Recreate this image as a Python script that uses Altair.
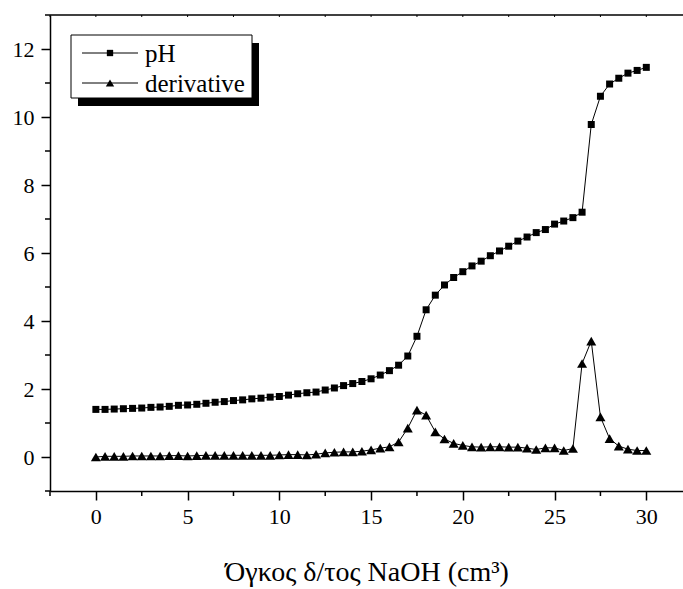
import altair as alt
import pandas as pd

# ---------------- data ----------------
volume = [0.0, 0.5, 1.0, 1.5, 2.0, 2.5, 3.0, 3.5, 4.0, 4.5, 5.0, 5.5, 6.0, 6.5, 7.0, 7.5,
          8.0, 8.5, 9.0, 9.5, 10.0, 10.5, 11.0, 11.5, 12.0, 12.5, 13.0, 13.5, 14.0, 14.5,
          15.0, 15.5, 16.0, 16.5, 17.0, 17.5, 18.0, 18.5, 19.0, 19.5, 20.0, 20.5, 21.0,
          21.5, 22.0, 22.5, 23.0, 23.5, 24.0, 24.5, 25.0, 25.5, 26.0, 26.5, 27.0, 27.5,
          28.0, 28.5, 29.0, 29.5, 30.0]
ph = [1.40, 1.40, 1.41, 1.42, 1.43, 1.44, 1.46, 1.47, 1.49, 1.52, 1.53, 1.55, 1.58, 1.61,
      1.63, 1.66, 1.68, 1.71, 1.73, 1.76, 1.78, 1.82, 1.86, 1.89, 1.91, 1.97, 2.03, 2.10,
      2.16, 2.22, 2.30, 2.41, 2.54, 2.70, 2.97, 3.55, 4.33, 4.76, 5.06, 5.28, 5.45, 5.62,
      5.76, 5.92, 6.06, 6.20, 6.35, 6.47, 6.60, 6.69, 6.85, 6.94, 7.04, 7.20, 9.78, 10.61,
      10.97, 11.14, 11.29, 11.37, 11.46]
derivative = [0.00, 0.02, 0.02, 0.02, 0.03, 0.03, 0.03, 0.03, 0.04, 0.04, 0.03, 0.04, 0.05,
              0.05, 0.05, 0.05, 0.05, 0.05, 0.05, 0.05, 0.06, 0.07, 0.07, 0.06, 0.08, 0.12,
              0.14, 0.15, 0.15, 0.17, 0.21, 0.26, 0.30, 0.44, 0.85, 1.38, 1.23, 0.74, 0.53,
              0.40, 0.34, 0.30, 0.29, 0.30, 0.30, 0.29, 0.29, 0.26, 0.22, 0.27, 0.27, 0.19,
              0.25, 2.75, 3.41, 1.18, 0.54, 0.32, 0.23, 0.19, 0.19]
series_names = ["pH", "derivative"]
series_shapes = ["square", "triangle-up"]
x_major = [0, 5, 10, 15, 20, 25, 30]
x_minor = [-2.5, 2.5, 7.5, 12.5, 17.5, 22.5, 27.5]
y_major = [0, 2, 4, 6, 8, 10, 12]
y_minor = [-1, 1, 3, 5, 7, 9, 11, 13]
x_title = "Όγκος δ/τος NaOH (cm³)"

FONT = "'Liberation Serif', 'Times New Roman', Times, serif"
W, H = 633, 476

df = pd.DataFrame({"volume": volume, "pH": ph, "derivative": derivative})
long = df.melt("volume", var_name="series", value_name="value")

xscale = alt.Scale(domain=[-2.5, 32], nice=False, zero=False)
yscale = alt.Scale(domain=[-1, 13], nice=False, zero=False)

x_axis = alt.Axis(
    values=x_major, format="d", tickSize=9,
    labelOverlap=False, labelFlush=False, labelPadding=6,
    labelFont=FONT, labelFontSize=22, labelColor="black",
    title=x_title, titleFont=FONT, titleFontSize=28, titleFontWeight="normal",
    titleColor="black", titleBaseline="alphabetic", titleY=89,
    grid=False, domainColor="black", domainWidth=1.5, tickColor="black", tickWidth=1.5,
)
y_axis = alt.Axis(
    values=y_major, format="d", tickSize=9,
    labelOverlap=False, labelFlush=False, labelPadding=7,
    labelFont=FONT, labelFontSize=22, labelColor="black",
    title=None,
    grid=False, domainColor="black", domainWidth=1.5, tickColor="black", tickWidth=1.5,
)


def X(field):
    return alt.X(field, scale=xscale, axis=x_axis)


def Y(field):
    return alt.Y(field, scale=yscale, axis=y_axis)


lines = alt.Chart(long).mark_line(color="black", strokeWidth=1).encode(
    x=X("volume:Q"), y=Y("value:Q"), detail="series:N",
)

point_layers = []
for name, shp, sz in zip(series_names, series_shapes, [49, 100]):
    point_layers.append(
        alt.Chart(long).transform_filter(alt.datum.series == name).mark_point(
            shape=shp, size=sz, filled=True, color="black", opacity=1
        ).encode(x=X("volume:Q"), y=Y("value:Q"))
    )

# minor ticks
xminor = alt.Chart(pd.DataFrame({"v": x_minor})).mark_rule(color="black", strokeWidth=1.5).encode(
    x=X("v:Q"), y=alt.value(H), y2=alt.value(H + 5)
)
yminor = alt.Chart(pd.DataFrame({"v": y_minor})).mark_rule(color="black", strokeWidth=1.5).encode(
    y=Y("v:Q"), x=alt.value(-5), x2=alt.value(0)
)
# small tick marks on the top frame line
xtop = alt.Chart(pd.DataFrame({"v": x_major + x_minor})).mark_rule(color="black", strokeWidth=1).encode(
    x=X("v:Q"), y=alt.value(0), y2=alt.value(2)
)

one = alt.Data(values=[{}])
top_line = alt.Chart(one).mark_rule(color="black", strokeWidth=1.5).encode(
    x=alt.value(0), x2=alt.value(W), y=alt.value(0)
)

# legend (drawn by hand: box with drop shadow)
shadow = alt.Chart(one).mark_rect(color="black").encode(
    x=alt.value(28), x2=alt.value(209), y=alt.value(28), y2=alt.value(91)
)
box = alt.Chart(one).mark_rect(fill="white", stroke="black", strokeWidth=1).encode(
    x=alt.value(21), x2=alt.value(202), y=alt.value(20), y2=alt.value(83)
)
legend_layers = [shadow, box]
for i, (name, shp, sz) in enumerate(zip(series_names, series_shapes, [40, 70])):
    yy = 38 + 30 * i
    ldf = pd.DataFrame({"label": [name]})
    legend_layers.append(
        alt.Chart(ldf).mark_rule(color="black", strokeWidth=1).encode(
            x=alt.value(32), x2=alt.value(88), y=alt.value(yy)
        )
    )
    legend_layers.append(
        alt.Chart(ldf).mark_point(shape=shp, size=sz, filled=True, color="black", opacity=1).encode(
            x=alt.value(60), y=alt.value(yy)
        )
    )
    legend_layers.append(
        alt.Chart(ldf).mark_text(
            align="left", baseline="middle", font=FONT, fontSize=25, color="black"
        ).encode(text="label:N", x=alt.value(95), y=alt.value(yy + 1))
    )

chart = alt.layer(lines, *point_layers, xminor, yminor, xtop, top_line, *legend_layers).properties(
    width=W, height=H,
    autosize=alt.AutoSizeParams(type="none"),
    padding={"left": 50, "top": 15, "right": 0, "bottom": 98},
).configure(background="white", font=FONT).configure_view(stroke=None)

chart.save("out.html", embed_options={"renderer": "svg", "actions": False})
